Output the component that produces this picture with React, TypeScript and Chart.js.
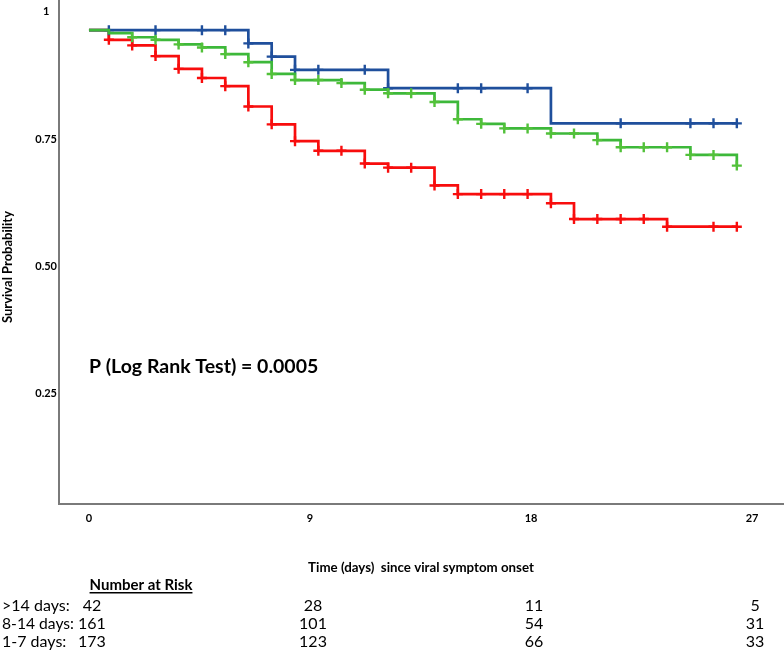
import React, { useEffect, useRef } from 'react';
import { Chart, registerables } from 'chart.js';

Chart.register(...registerables);

const FONT = 'Lato, Carlito, Calibri, "DejaVu Sans", sans-serif';

// ---- Kaplan-Meier step data (time in days, survival after the step) ----
const blueTimes = [0, 6.49, 7.44, 8.39, 12.18, 18.81, 26.38];
const blueSurv = [0.964, 0.938, 0.912, 0.886, 0.85, 0.781, 0.781];
const blueCensor = [0.81, 2.71, 4.6, 5.55, 6.49, 7.44, 8.39, 9.34, 11.23, 12.18, 15.02, 15.97, 17.86, 21.65, 24.49, 25.43, 26.38];

const greenTimes = [0, 0.81, 1.76, 2.71, 3.65, 4.6, 5.55, 6.49, 7.44, 8.39, 10.28, 11.23, 12.18, 14.07, 15.02, 15.97, 16.91, 18.81, 20.7, 21.65, 24.49, 26.38];
const greenSurv = [0.964, 0.958, 0.95, 0.945, 0.936, 0.93, 0.917, 0.901, 0.878, 0.866, 0.86, 0.847, 0.84, 0.823, 0.789, 0.78, 0.771, 0.761, 0.748, 0.734, 0.719, 0.698];
const greenCensor = [1.76, 2.71, 3.65, 4.6, 5.55, 6.49, 7.44, 8.39, 9.34, 10.28, 11.23, 12.18, 13.12, 14.07, 15.02, 15.97, 16.91, 17.86, 18.81, 19.75, 20.7, 21.65, 22.59, 23.54, 24.49, 25.43, 26.38];

const redTimes = [0, 0.81, 1.76, 2.71, 3.65, 4.6, 5.55, 6.49, 7.44, 8.39, 9.34, 11.23, 12.18, 14.07, 15.02, 18.81, 19.75, 23.54, 26.38];
const redSurv = [0.964, 0.945, 0.934, 0.913, 0.888, 0.87, 0.854, 0.814, 0.779, 0.746, 0.727, 0.702, 0.694, 0.659, 0.642, 0.624, 0.593, 0.578, 0.578];
const redCensor = [0.81, 1.76, 2.71, 3.65, 4.6, 5.55, 6.49, 7.44, 8.39, 9.34, 10.28, 11.23, 12.18, 13.12, 14.07, 15.02, 15.97, 16.91, 17.86, 18.81, 19.75, 20.7, 21.65, 22.59, 23.54, 25.43, 26.38];

// ---- axes ----
const xTicks = [0, 9, 18, 27];
const yTicks = [0.25, 0.5, 0.75, 1];
const yTickLabels = ['0.25', '0.50', '0.75', '1'];

// ---- number at risk ----
const riskTimes = [0, 9, 18, 27];
const riskGroups = ['>14 days:', '8-14 days:', '1-7 days:'];
const riskGt14 = [42, 28, 11, 5];
const risk8to14 = [161, 101, 54, 31];
const risk1to7 = [173, 123, 66, 33];

const xTitle = 'Time (days)  since viral symptom onset';
const yTitle = 'Survival Probability';
const pText = 'P (Log Rank Test) = 0.0005';

const BLUE = '#1f4f9c';
const GREEN = '#3db83a';
const GREEN_MARK = '#52c13a';
const RED = '#f80d0d';
const AXIS = '#7a7a7a';

function toPoints(times: number[], surv: number[]) {
  return times.map((t, i) => ({ x: t, y: surv[i] }));
}
function censorPoints(times: number[], surv: number[], cens: number[]) {
  return cens.map((c) => {
    let v = surv[0];
    for (let i = 0; i < times.length; i++) if (times[i] <= c + 1e-9) v = surv[i];
    return { x: c, y: v };
  });
}

const textPlugin = {
  id: 'kmText',
  afterDraw(chart: any) {
    const { ctx } = chart;
    const xs = chart.scales.x;
    ctx.save();
    ctx.fillStyle = '#000';
    // y axis title
    ctx.save();
    ctx.translate(8, 267);
    ctx.rotate(-Math.PI / 2);
    ctx.font = `bold 13px ${FONT}`;
    ctx.textAlign = 'center';
    ctx.textBaseline = 'middle';
    ctx.fillText(yTitle, 0, 0);
    ctx.restore();
    // p value
    ctx.font = `bold 19.5px ${FONT}`;
    ctx.textAlign = 'left';
    ctx.textBaseline = 'middle';
    ctx.fillText(pText, xs.getPixelForValue(0), 367);
    // number at risk header
    ctx.font = `bold 15px ${FONT}`;
    ctx.textAlign = 'center';
    const hw = ctx.measureText('Number at Risk').width;
    ctx.fillText('Number at Risk', 141, 585);
    ctx.fillRect(141 - hw / 2, 592, hw, 1.5);
    // rows
    const rows = [riskGt14, risk8to14, risk1to7];
    const rowY = [606, 624, 642];
    ctx.font = `16px ${FONT}`;
    rows.forEach((row, r) => {
      ctx.textAlign = 'left';
      ctx.fillText(riskGroups[r], 2, rowY[r], 72);
      ctx.textAlign = 'center';
      row.forEach((n, j) => {
        ctx.fillText(String(n), xs.getPixelForValue(riskTimes[j]) + 3, rowY[r]);
      });
    });
    ctx.restore();
  },
};

export default function App() {
  const ref = useRef<HTMLCanvasElement>(null);
  useEffect(() => {
    if (!ref.current) return;
    const lineDs = (label: string, data: any[], color: string) => ({
      type: 'line' as const,
      label,
      data,
      stepped: true,
      borderColor: color,
      backgroundColor: color,
      borderWidth: 2.7,
      pointRadius: 0,
      fill: false,
      tension: 0,
    });
    const markDs = (label: string, data: any[], color: string) => ({
      type: 'line' as const,
      label,
      data,
      showLine: false,
      pointStyle: 'cross',
      pointRadius: 5,
      pointBorderWidth: 2.4,
      pointBorderColor: color,
      borderColor: color,
      backgroundColor: color,
    });
    const chart = new Chart(ref.current, {
      type: 'line',
      data: {
        datasets: [
          markDs('8-14 censor', censorPoints(greenTimes, greenSurv, greenCensor), GREEN_MARK),
          lineDs('8-14 days', toPoints(greenTimes, greenSurv), GREEN),
          markDs('>14 censor', censorPoints(blueTimes, blueSurv, blueCensor), BLUE),
          lineDs('>14 days', toPoints(blueTimes, blueSurv), BLUE),
          markDs('1-7 censor', censorPoints(redTimes, redSurv, redCensor), RED),
          lineDs('1-7 days', toPoints(redTimes, redSurv), RED),
        ] as any,
      },
      options: {
        animation: false,
        responsive: false,
        devicePixelRatio: 1,
        layout: { autoPadding: false, padding: { left: 0, right: 1, top: 0, bottom: 0 } },
        plugins: { legend: { display: false }, tooltip: { enabled: false } },
        scales: {
          x: {
            type: 'linear',
            min: -1.22,
            max: 28.26,
            grid: { display: false, drawTicks: false },
            border: { display: true, color: AXIS, width: 2 },
            afterBuildTicks: (s: any) => {
              s.ticks = xTicks.map((v) => ({ value: v }));
            },
            afterFit: (s: any) => {
              s.height = 151;
              s.paddingLeft = 0;
              s.paddingRight = 0;
              s.paddingTop = 0;
              s.paddingBottom = 0;
            },
            ticks: {
              padding: 8,
              color: '#000',
              font: { family: FONT, size: 11, weight: 'bold' },
              callback: (v: any) => String(v),
              autoSkip: false,
              maxRotation: 0,
            },
            title: {
              display: true,
              text: xTitle,
              color: '#000',
              font: { family: FONT, size: 13.3, weight: 'bold' },
              padding: { top: 0, bottom: 79 },
            },
          },
          y: {
            type: 'linear',
            min: 0.0334,
            max: 1.0232,
            grid: { display: false, drawTicks: false },
            border: { display: true, color: AXIS, width: 2 },
            afterBuildTicks: (s: any) => {
              s.ticks = yTicks.map((v) => ({ value: v }));
            },
            afterFit: (s: any) => {
              s.width = 59;
              s.paddingLeft = 0;
              s.paddingRight = 0;
              s.paddingTop = 0;
              s.paddingBottom = 0;
            },
            ticks: {
              padding: 2,
              crossAlign: 'center',
              color: '#000',
              font: { family: FONT, size: 11, weight: 'bold' },
              callback: (v: any) => {
                const i = yTicks.indexOf(Number(v));
                return i >= 0 ? yTickLabels[i] : '';
              },
              autoSkip: false,
            },
          },
        },
      },
      plugins: [textPlugin],
    } as any);
    return () => chart.destroy();
  }, []);
  return (
    <div style={{ position: 'absolute', left: 0, top: 0, width: 784, height: 655, background: '#fff' }}>
      <canvas ref={ref} width={784} height={655} style={{ display: 'block', width: 784, height: 655 }} />
    </div>
  );
}
